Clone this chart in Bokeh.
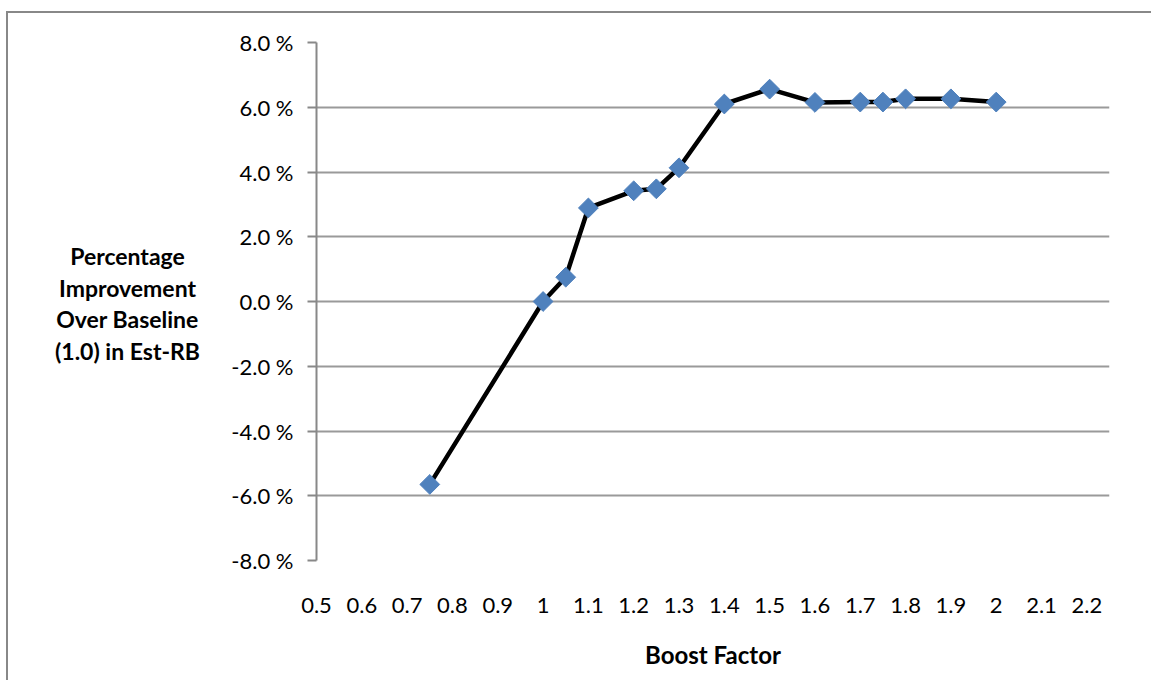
import math
from bokeh.plotting import figure
from bokeh.layouts import row
from bokeh.models import (ColumnDataSource, FixedTicker, PrintfTickFormatter,
                          CustomJSTickFormatter, Range1d)
from bokeh.core.properties import value
from bokeh.embed import file_html
from bokeh.resources import INLINE

# ---- data ----
boost_factor = [0.75, 1.0, 1.05, 1.1, 1.2, 1.25, 1.3, 1.4, 1.5, 1.6, 1.7, 1.75, 1.8, 1.9, 2.0]
improvement_pct = [-5.65, 0.0, 0.75, 2.89, 3.42, 3.48, 4.13, 6.10, 6.56, 6.15, 6.16, 6.16, 6.26, 6.26, 6.16]
x_ticks = [0.5, 0.6, 0.7, 0.8, 0.9, 1.0, 1.1, 1.2, 1.3, 1.4, 1.5, 1.6, 1.7, 1.8, 1.9, 2.0, 2.1, 2.2]
y_ticks = [-8, -6, -4, -2, 0, 2, 4, 6, 8]
y_label_lines = ["Percentage", "Improvement", "Over Baseline", "(1.0) in Est-RB"]
x_label = "Boost Factor"

FONT = "Lato"
GRID = "#9a9a9a"
H = 667
LEFT_W = 196

src = ColumnDataSource(dict(x=boost_factor, y=improvement_pct))

p = figure(frame_width=793, frame_height=518, output_backend="svg", toolbar_location=None,
           x_range=Range1d(0.5, 2.25), y_range=Range1d(-8, 8),
           min_border_left=112, min_border_top=29, min_border_right=42,
           min_border_bottom=120)
p.outline_line_color = None
p.background_fill_color = "white"
p.border_fill_color = "white"

p.line("x", "y", source=src, line_color="black", line_width=4.5)
p.scatter("x", "y", source=src, marker="square", size=14, angle=math.pi / 4,
          fill_color="#4f81bd", line_color="#4f81bd")

# y axis
ya = p.yaxis[0]
ya.ticker = FixedTicker(ticks=y_ticks)
ya.formatter = PrintfTickFormatter(format="%.1f %%")
ya.axis_line_color = "#888888"
ya.axis_line_width = 2
ya.major_tick_line_color = "#888888"
ya.major_tick_line_width = 2
ya.major_tick_out = 9
ya.major_tick_in = 0
ya.minor_tick_line_color = None
ya.major_label_standoff = 14
ya.major_label_text_font = FONT
ya.major_label_text_font_size = "22px"
ya.major_label_text_color = "black"

# x axis
xa = p.xaxis[0]
xa.ticker = FixedTicker(ticks=x_ticks)
xa.formatter = CustomJSTickFormatter(code="return tick.toFixed(1).replace(/\\.0$/, '');")
xa.axis_line_color = None
xa.major_tick_line_color = None
xa.minor_tick_line_color = None
xa.major_label_standoff = 31
xa.major_label_text_font = FONT
xa.major_label_text_font_size = "22px"
xa.major_label_text_color = "black"
xa.axis_label = x_label
xa.axis_label_standoff = 24
xa.axis_label_text_font = FONT
xa.axis_label_text_font_style = "bold"
xa.axis_label_text_font_size = "24px"
xa.axis_label_text_color = "black"

p.xgrid.grid_line_color = None
p.ygrid.grid_line_color = GRID
p.ygrid.grid_line_width = 2

# left panel holding the multi-line y axis title (frame aligned with main plot)
lp = figure(width=LEFT_W, height=H, output_backend="svg", toolbar_location=None,
            x_range=Range1d(0, LEFT_W), y_range=p.y_range,
            x_axis_type=None, y_axis_type=None, min_border=0)
lp.outline_line_color = None
lp.grid.grid_line_color = None
lp.border_fill_color = "white"
lp.background_fill_color = "white"
lab_src = ColumnDataSource(dict(x=[119] * 4, y=[1.42, 0.43, -0.53, -1.52], t=y_label_lines))
lp.text("x", "y", text="t", source=lab_src, text_align="center", text_baseline="middle",
        text_font=value(FONT), text_font_style="bold", text_font_size="23px",
        text_color="black")

layout = row(lp, p, spacing=0,
             styles={"border-top": "2px solid #888888", "border-left": "2px solid #888888",
                     "margin-left": "6px", "margin-top": "11px"})

open("out.html", "w").write(file_html(layout, INLINE))
